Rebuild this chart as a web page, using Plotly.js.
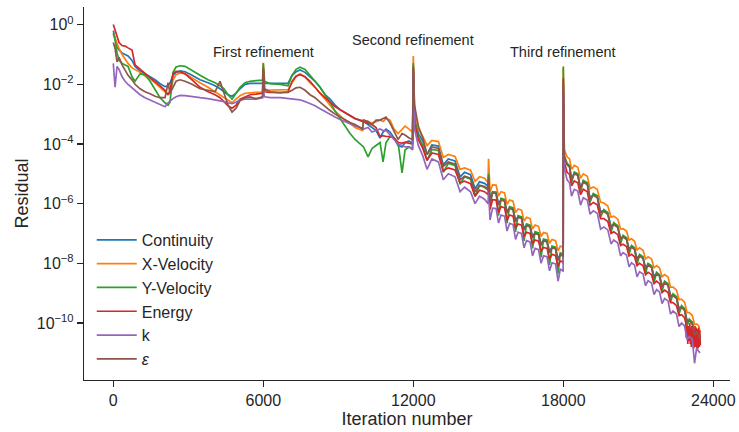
<!DOCTYPE html>
<html>
<head>
<meta charset="utf-8">
<script src="https://cdn.plot.ly/plotly-3.0.1.min.js"></script>
<style>html,body{margin:0;padding:0;background:#fff;}#chart{width:739px;height:432px;}</style>
</head>
<body>
<div id="chart"></div>
<script>
// Shared iteration samples (x)
const iterations = [
  // 0 - 12000
  0,70,150,230,350,470,590,750,870,1070,
  1270,1470,1670,1870,2070,2190,2270,2390,2510,2670,
  2870,3150,3470,3790,4070,4270,4430,4590,4750,4910,
  5070,5270,5470,5710,5970,6000,6050,6270,6670,6990,
  7150,7310,7470,7670,7870,8070,8270,8470,8670,8870,
  9070,9270,9470,9670,9970,10010,10190,10350,10510,10670,
  10790,10910,11070,11230,11390,11550,11670,11830,11970,
  // 12000 - 18000
  12000,12050,12200,12380,12550,12745,13005,13200,13400,13670,
  13870,14050,14290,14470,14650,14850,14990,15010,15070,15170,
  15310,15410,15510,15650,15750,15850,15990,16090,16190,16330,
  16430,16530,16670,16770,16870,17010,17110,17210,17350,17450,
  17550,17690,17790,17880,17960,17995,
  // 18000 - end
  18000,18040,18150,18250,18330,18440,18580,18690,18800,18960,
  19070,19200,19360,19490,19620,19780,19910,20020,20180,20290,
  20390,20530,20630,20730,20850,20950,21050,21190,21290,21390,
  21530,21630,21730,21850,21950,22050,22190,22290,22390,22530,
  22630,22730,22850,22950,23040,23160,23250,23330,23420,23470
];

// Residuals, stored as log10(residual)
const continuityLog = [
  -0.2,-0.5,-0.75,-0.85,-0.95,-1.0,-1.05,-1.2,-1.4,-1.55,
  -1.65,-1.75,-1.85,-1.98,-2.08,-2.05,-1.95,-1.7,-1.6,-1.55,
  -1.58,-1.7,-1.85,-1.95,-2.05,-2.15,-2.25,-2.35,-2.4,-2.3,
  -2.15,-2.0,-1.97,-1.97,-1.97,-1.7,-1.97,-1.97,-1.98,-1.97,
  -1.7,-1.58,-1.52,-1.6,-1.75,-1.9,-2.1,-2.35,-2.5,-2.7,
  -2.85,-2.95,-3.05,-3.15,-3.25,-3.25,-3.35,-3.45,-3.55,-3.8,
  -3.6,-3.5,-3.6,-3.8,-4.05,-4.1,-3.95,-3.9,-4.0,
  -1.5,-3.1,-3.65,-3.9,-4.35,-4.03,-4.07,-4.7,-4.5,-4.57,
  -5.1,-4.95,-5.03,-5.5,-5.27,-5.32,-5.42,-5.05,-5.9,-5.61,
  -5.63,-6.02,-5.85,-5.89,-6.28,-6.13,-6.17,-6.56,-6.43,-6.47,
  -6.84,-6.71,-6.75,-7.1,-6.97,-7.01,-7.36,-7.22,-7.25,-7.6,
  -7.45,-7.49,-7.86,-7.69,-7.71,-7.75,
  -2.0,-4.42,-4.67,-4.75,-5.17,-4.97,-5.03,-5.47,-5.25,-5.33,
  -5.82,-5.69,-5.77,-6.27,-6.23,-6.33,-6.77,-6.67,-6.77,-7.17,
  -7.09,-7.17,-7.52,-7.43,-7.51,-7.85,-7.73,-7.81,-8.15,-8.03,
  -8.11,-8.45,-8.33,-8.41,-8.75,-8.63,-8.71,-9.09,-9.05,-9.15,
  -9.52,-9.45,-9.55,-9.92,-9.9,-10.0,-10.37,-10.27,-10.37,-10.52
];
const xVelocityLog = [
  -0.3,-0.45,-0.65,-0.8,-1.0,-1.15,-1.3,-1.45,-1.5,-1.6,
  -1.72,-1.82,-1.95,-2.1,-2.25,-2.35,-2.3,-1.85,-1.68,-1.62,
  -1.65,-1.8,-1.95,-2.1,-2.25,-2.35,-2.45,-2.52,-2.62,-2.5,
  -2.38,-2.3,-2.28,-2.27,-2.26,-1.28,-2.2,-2.2,-2.2,-2.18,
  -1.95,-1.75,-1.65,-1.75,-1.95,-2.1,-2.3,-2.5,-2.7,-2.9,
  -3.05,-3.2,-3.3,-3.45,-3.55,-3.2,-3.25,-3.3,-3.25,-3.2,
  -3.25,-3.15,-3.2,-3.5,-3.65,-3.5,-3.4,-3.5,-3.6,
  -1.05,-2.95,-3.5,-3.75,-4.05,-3.88,-3.92,-4.45,-4.35,-4.42,
  -4.85,-4.8,-4.88,-5.25,-5.1,-5.15,-5.3,-4.5,-5.6,-5.37,
  -5.38,-5.75,-5.6,-5.64,-6.02,-5.88,-5.92,-6.3,-6.18,-6.22,
  -6.58,-6.46,-6.5,-6.85,-6.72,-6.76,-7.1,-6.97,-7.0,-7.33,
  -7.2,-7.24,-7.58,-7.42,-7.45,-7.5,
  -1.45,-4.2,-4.43,-4.5,-4.85,-4.72,-4.78,-5.15,-5.0,-5.08,
  -5.5,-5.44,-5.52,-5.95,-5.98,-6.08,-6.45,-6.42,-6.52,-6.85,
  -6.84,-6.92,-7.22,-7.18,-7.26,-7.55,-7.48,-7.56,-7.85,-7.78,
  -7.86,-8.15,-8.08,-8.16,-8.45,-8.38,-8.46,-8.8,-8.8,-8.9,
  -9.22,-9.2,-9.3,-9.65,-9.65,-9.75,-10.05,-10.03,-10.1,-10.3
];
const yVelocityLog = [
  -0.3,-0.5,-0.95,-1.2,-1.3,-1.35,-1.4,-1.75,-1.9,-1.65,
  -1.68,-1.9,-2.2,-2.45,-2.62,-2.7,-2.6,-1.6,-1.42,-1.38,
  -1.4,-1.55,-1.7,-1.85,-1.95,-2.05,-2.15,-2.35,-2.5,-2.3,
  -2.1,-1.95,-1.9,-1.88,-1.86,-1.3,-1.9,-1.98,-2.0,-2.05,
  -1.7,-1.5,-1.43,-1.5,-1.7,-1.9,-2.1,-2.35,-2.6,-2.9,
  -3.15,-3.4,-3.65,-3.85,-4.05,-4.1,-4.43,-4.15,-4.05,-3.95,
  -4.6,-3.95,-3.75,-3.8,-3.95,-4.97,-4.2,-4.1,-4.15,
  -1.29,-3.2,-3.75,-4.05,-4.55,-4.18,-4.22,-4.95,-4.65,-4.72,
  -5.35,-5.1,-5.18,-5.75,-5.4,-5.45,-5.55,-5.0,-6.1,-5.6,
  -5.62,-6.4,-5.82,-5.86,-6.65,-6.1,-6.14,-6.95,-6.4,-6.44,
  -7.25,-6.68,-6.72,-7.5,-6.94,-6.98,-7.8,-7.19,-7.22,-8.05,
  -7.42,-7.46,-8.35,-7.65,-7.68,-7.7,
  -1.4,-4.4,-4.65,-4.72,-5.3,-4.94,-5.0,-5.6,-5.22,-5.3,
  -5.95,-5.66,-5.74,-6.45,-6.2,-6.3,-6.95,-6.64,-6.74,-7.35,
  -7.06,-7.14,-7.7,-7.4,-7.48,-8.05,-7.7,-7.78,-8.35,-8.0,
  -8.08,-8.65,-8.3,-8.38,-8.95,-8.6,-8.68,-9.3,-9.02,-9.12,
  -9.7,-9.42,-9.52,-10.1,-9.87,-9.97,-10.55,-10.25,-10.35,-10.5
];
const energyLog = [
  0.0,-0.2,-0.4,-0.6,-0.7,-0.72,-0.78,-0.85,-1.35,-1.5,
  -1.65,-1.8,-1.92,-2.05,-2.2,-2.35,-2.2,-1.65,-1.57,-1.58,
  -1.65,-1.85,-2.1,-2.25,-2.35,-2.45,-2.6,-2.72,-2.8,-2.7,
  -2.5,-2.42,-2.35,-2.33,-2.3,-1.5,-2.25,-2.27,-2.28,-2.25,
  -1.9,-1.72,-1.68,-1.75,-1.9,-2.1,-2.3,-2.45,-2.6,-2.75,
  -2.85,-2.95,-3.05,-3.15,-3.22,-3.25,-3.3,-3.35,-3.45,-3.75,
  -3.72,-3.75,-3.75,-3.8,-3.95,-3.97,-3.95,-3.97,-4.0,
  -1.45,-3.3,-3.85,-4.15,-4.55,-4.3,-4.35,-4.9,-4.8,-4.87,
  -5.3,-5.25,-5.33,-5.75,-5.55,-5.6,-5.7,-5.3,-6.2,-5.87,
  -5.88,-6.3,-6.1,-6.14,-6.55,-6.38,-6.42,-6.82,-6.68,-6.72,
  -7.1,-6.96,-7.0,-7.35,-7.22,-7.26,-7.6,-7.47,-7.5,-7.85,
  -7.7,-7.74,-8.1,-7.92,-7.95,-8.0,
  -1.8,-4.6,-4.95,-5.02,-5.4,-5.24,-5.3,-5.7,-5.52,-5.6,
  -6.05,-5.96,-6.04,-6.5,-6.5,-6.6,-7.0,-6.94,-7.04,-7.4,
  -7.36,-7.44,-7.75,-7.7,-7.78,-8.08,-8.0,-8.08,-8.38,-8.3,
  -8.38,-8.68,-8.6,-8.68,-8.98,-8.9,-8.98,-9.32,-9.32,-9.42,
  -9.75,-9.72,-9.82,-10.1,-10.05,-10.3,-10.6,-10.4,-10.7,-10.5
];
// extra samples of the noisy Energy tail
const energyNoiseIterations = [22900,22920,22980,23000,23020,23060,23080,23100,23120,23140,23180,23200,23220,23270,23290,23310,23350,23370,23390,23410,23440,23460,23480];
const energyNoiseLog = [-10.0,-10.5,-10.7,-10.1,-10.6,-10.0,-10.7,-10.2,-10.8,-10.1,-10.75,-10.2,-10.85,-10.1,-10.8,-10.15,-10.9,-10.2,-10.85,-10.15,-10.8,-10.25,-10.75];
const kLog = [
  -1.3,-2.1,-1.4,-1.5,-1.75,-1.9,-2.0,-2.12,-2.22,-2.35,
  -2.45,-2.52,-2.6,-2.68,-2.75,-2.62,-2.55,-2.48,-2.42,-2.37,
  -2.38,-2.42,-2.45,-2.48,-2.52,-2.55,-2.58,-2.62,-2.65,-2.6,
  -2.52,-2.5,-2.5,-2.5,-2.45,-2.2,-2.42,-2.45,-2.45,-2.47,
  -2.48,-2.5,-2.52,-2.58,-2.65,-2.72,-2.82,-2.92,-3.02,-3.1,
  -3.18,-3.25,-3.32,-3.4,-3.47,-3.5,-3.45,-3.6,-3.55,-3.5,
  -3.55,-3.55,-3.7,-3.85,-4.0,-4.05,-4.1,-4.1,-4.2,
  -1.6,-3.5,-4.05,-4.4,-4.85,-4.5,-4.6,-5.2,-5.0,-5.1,
  -5.6,-5.45,-5.6,-6.0,-5.75,-5.85,-6.0,-5.6,-6.55,-6.15,
  -6.16,-6.65,-6.38,-6.42,-6.92,-6.66,-6.7,-7.2,-6.96,-7.0,
  -7.48,-7.24,-7.28,-7.75,-7.5,-7.54,-8.0,-7.75,-7.78,-8.25,
  -7.98,-8.02,-8.6,-8.2,-8.23,-8.28,
  -2.2,-4.8,-5.2,-5.3,-5.75,-5.52,-5.58,-6.05,-5.8,-5.88,
  -6.35,-6.24,-6.32,-6.85,-6.78,-6.88,-7.35,-7.22,-7.32,-7.75,
  -7.64,-7.72,-8.12,-7.98,-8.06,-8.45,-8.28,-8.36,-8.75,-8.58,
  -8.66,-9.05,-8.88,-8.96,-9.35,-9.18,-9.26,-9.7,-9.6,-9.7,
  -10.12,-10.0,-10.1,-10.55,-10.45,-10.55,-11.35,-10.85,-10.95,-11.0
];
const epsilonLog = [
  -0.6,-0.8,-1.25,-1.1,-1.35,-1.55,-1.7,-1.85,-2.0,-2.15,
  -2.25,-2.32,-2.4,-2.45,-2.45,-1.95,-2.3,-2.1,-1.9,-1.85,
  -1.9,-2.0,-2.15,-2.2,-2.25,-1.9,-2.3,-2.7,-2.93,-2.8,
  -2.55,-2.45,-2.42,-2.48,-2.42,-1.45,-2.15,-2.25,-2.28,-2.27,
  -2.2,-2.12,-2.1,-2.2,-2.35,-2.45,-2.6,-2.75,-2.88,-3.0,
  -3.1,-3.2,-3.28,-3.35,-3.5,-3.2,-3.25,-3.35,-3.2,-3.2,
  -3.15,-3.1,-3.3,-3.55,-3.85,-3.65,-3.7,-3.8,-3.85,
  -1.4,-2.7,-3.4,-3.8,-4.35,-4.1,-4.15,-4.75,-4.6,-4.68,
  -5.2,-5.08,-5.15,-5.6,-5.38,-5.43,-5.5,-5.1,-5.95,-5.64,
  -5.66,-6.05,-5.88,-5.92,-6.32,-6.16,-6.2,-6.6,-6.46,-6.5,
  -6.88,-6.74,-6.78,-7.15,-7.0,-7.04,-7.4,-7.25,-7.28,-7.65,
  -7.48,-7.52,-7.9,-7.72,-7.74,-7.78,
  -1.95,-4.45,-4.7,-4.78,-5.2,-5.0,-5.06,-5.5,-5.28,-5.36,
  -5.85,-5.72,-5.8,-6.3,-6.26,-6.36,-6.8,-6.7,-6.8,-7.2,
  -7.12,-7.2,-7.55,-7.46,-7.54,-7.88,-7.76,-7.84,-8.18,-8.06,
  -8.14,-8.48,-8.36,-8.44,-8.78,-8.66,-8.74,-9.12,-9.08,-9.18,
  -9.55,-9.48,-9.58,-9.95,-9.93,-10.03,-10.4,-10.3,-10.4,-10.55
];

const seriesNames = ['Continuity', 'X-Velocity', 'Y-Velocity', 'Energy', 'k', '<i>ε</i>'];
const seriesColors = ['#1f77b4', '#ff7f0e', '#2ca02c', '#d62728', '#9467bd', '#8c564b'];

const xTickValues = [0, 6000, 12000, 18000, 24000];
const xTickLabels = ['0', '6000', '12000', '18000', '24000'];
const yTickExponents = [0, -2, -4, -6, -8, -10];
const yTickLabels = ['10<sup>0</sup>', '10<sup>\u22122</sup>', '10<sup>\u22124</sup>', '10<sup>\u22126</sup>', '10<sup>\u22128</sup>', '10<sup>\u221210</sup>'];

const annotationTexts = ['First refinement', 'Second refinement', 'Third refinement'];
const annotationIterations = [6000, 12000, 18000];
const annotationLogY = [-0.93, -0.5, -0.93];

const logSeries = [continuityLog, xVelocityLog, yVelocityLog, energyLog, kLog, epsilonLog];
logSeries.forEach((s, i) => {
  if (s.length !== iterations.length) throw new Error('length mismatch in ' + seriesNames[i] + ': ' + s.length + ' vs ' + iterations.length);
});

const toVal = (e) => Math.pow(10, e);

const traces = logSeries.map((s, i) => {
  let xs = iterations.slice();
  let ls = s.slice();
  if (i === 3) {
    const pairs = xs.map((x, j) => [x, ls[j]]).concat(energyNoiseIterations.map((x, j) => [x, energyNoiseLog[j]]));
    pairs.sort((a, b) => a[0] - b[0]);
    xs = pairs.map(p => p[0]);
    ls = pairs.map(p => p[1]);
  }
  return {
    type: 'scatter', mode: 'lines', name: seriesNames[i],
    x: xs, y: ls.map(toVal),
    line: {color: seriesColors[i], width: 1.7}
  };
});

const textColor = '#262626';
const fontFamily = '"Liberation Sans", Arial, sans-serif';

const layout = {
  width: 739, height: 432, autosize: false,
  paper_bgcolor: '#ffffff', plot_bgcolor: '#ffffff',
  margin: {l: 84, r: 9, t: 7, b: 52, pad: 0},
  font: {family: fontFamily, color: textColor, size: 16},
  showlegend: true,
  legend: {
    x: 0.012, y: 0.421, xanchor: 'left', yanchor: 'top',
    bgcolor: 'rgba(0,0,0,0)', borderwidth: 0,
    font: {size: 16, color: textColor, family: fontFamily},
    tracegroupgap: 0, itemwidth: 40
  },
  xaxis: {
    range: [-1172, 24668], showgrid: false, zeroline: false,
    showline: true, linecolor: textColor, linewidth: 1.25,
    ticks: 'outside', ticklen: 6, tickwidth: 1.25, tickcolor: textColor,
    tickvals: xTickValues, ticktext: xTickLabels,
    tickfont: {size: 16, color: textColor, family: fontFamily},
    title: {text: 'Iteration number', font: {size: 18, color: textColor, family: fontFamily}, standoff: 4}
  },
  yaxis: {
    type: 'log', range: [-11.91, 0.59], showgrid: false, zeroline: false,
    showline: true, linecolor: textColor, linewidth: 1.25,
    ticks: 'outside', ticklen: 6, tickwidth: 1.25, tickcolor: textColor,
    tickvals: yTickExponents.map(toVal), ticktext: yTickLabels,
    tickfont: {size: 16, color: textColor, family: fontFamily},
    title: {text: 'Residual', font: {size: 18, color: textColor, family: fontFamily}, standoff: 3}
  },
  annotations: annotationTexts.map((t, i) => ({
    x: annotationIterations[i], y: annotationLogY[i], xref: 'x', yref: 'y',
    text: t, showarrow: false, xanchor: 'center', yanchor: 'middle',
    font: {size: 14.5, color: textColor, family: fontFamily}
  }))
};

Plotly.newPlot('chart', traces, layout, {displayModeBar: false, staticPlot: true});
</script>
</body>
</html>
